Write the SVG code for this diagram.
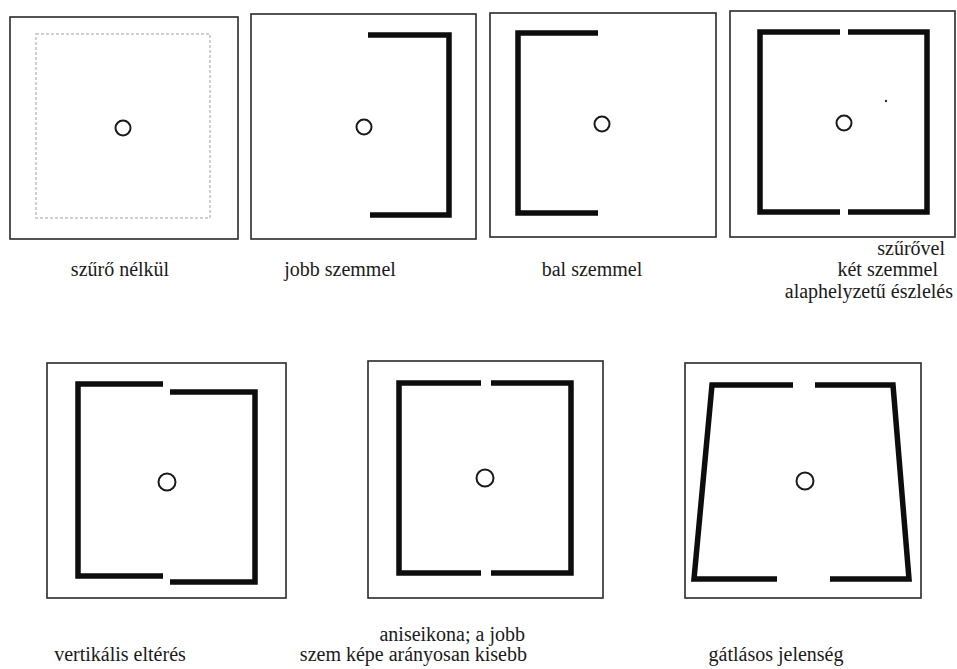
<svg xmlns="http://www.w3.org/2000/svg" width="957" height="669" viewBox="0 0 957 669">
<style>
.frame{fill:none;stroke:#2a2a2a;stroke-width:1.6}
.bar{fill:none;stroke:#0d0d0d;stroke-width:5.5;stroke-linecap:butt;stroke-linejoin:miter}
.fix{fill:none;stroke:#1a1a1a;stroke-width:2}
.ghost{fill:none;stroke:#d0d0d0;stroke-width:2;stroke-dasharray:3 2}
.lbl{font-family:"Liberation Serif","Times New Roman",serif;font-size:20px;fill:#1a1a1a}
</style>
<rect width="957" height="669" fill="#ffffff"/>
<g id="panel1">
<rect class="frame" x="10" y="17" width="228" height="222"/>
<rect class="ghost" x="36" y="34" width="174" height="184"/>
<circle class="fix" cx="123" cy="128" r="7.5"/>
<text class="lbl" x="120" y="276" text-anchor="middle">szűrő nélkül</text>
</g>
<g id="panel2">
<rect class="frame" x="251" y="14" width="225" height="225"/>
<path class="bar" d="M368 35H449V215H370"/>
<circle class="fix" cx="364" cy="127" r="7.5"/>
<text class="lbl" x="340" y="276" text-anchor="middle">jobb szemmel</text>
</g>
<g id="panel3">
<rect class="frame" x="490" y="13" width="226" height="224"/>
<path class="bar" d="M598 33H518V213H598"/>
<circle class="fix" cx="602" cy="124" r="7.5"/>
<text class="lbl" x="592" y="276" text-anchor="middle">bal szemmel</text>
</g>
<g id="panel4">
<rect class="frame" x="730" y="11" width="225" height="226"/>
<path class="bar" d="M840 32H760V212H840"/>
<path class="bar" d="M848 32H927V212H848"/>
<circle class="fix" cx="844" cy="123" r="7.5"/>
<circle cx="886" cy="101" r="1.2" fill="#333"/>
<text class="lbl" x="945" y="255" text-anchor="end">szűrővel</text>
<text class="lbl" x="938" y="276" text-anchor="end">két szemmel</text>
<text class="lbl" x="953" y="298" text-anchor="end">alaphelyzetű észlelés</text>
</g>
<g id="panel5">
<rect class="frame" x="47" y="363" width="239" height="235"/>
<path class="bar" d="M163 384H78V576H163"/>
<path class="bar" d="M170 392H255V582H170"/>
<circle class="fix" cx="167" cy="482" r="8.5"/>
<text class="lbl" x="120" y="661" text-anchor="middle">vertikális eltérés</text>
</g>
<g id="panel6">
<rect class="frame" x="368" y="361" width="235" height="237"/>
<path class="bar" d="M481 383H399V573H481"/>
<path class="bar" d="M491 383H571V573H491"/>
<circle class="fix" cx="485" cy="478" r="8.5"/>
<text class="lbl" x="525" y="641" text-anchor="end">aniseikona; a jobb</text>
<text class="lbl" x="527" y="661" text-anchor="end">szem képe arányosan kisebb</text>
</g>
<g id="panel7">
<rect class="frame" x="685" y="363" width="236" height="235"/>
<path class="bar" d="M793 385H712L694 579H777"/>
<path class="bar" d="M815 385H893L909 579H830"/>
<circle class="fix" cx="805" cy="481" r="8.5"/>
<text class="lbl" x="776" y="661" text-anchor="middle">gátlásos jelenség</text>
</g>
<g id="connectors"/>
</svg>
